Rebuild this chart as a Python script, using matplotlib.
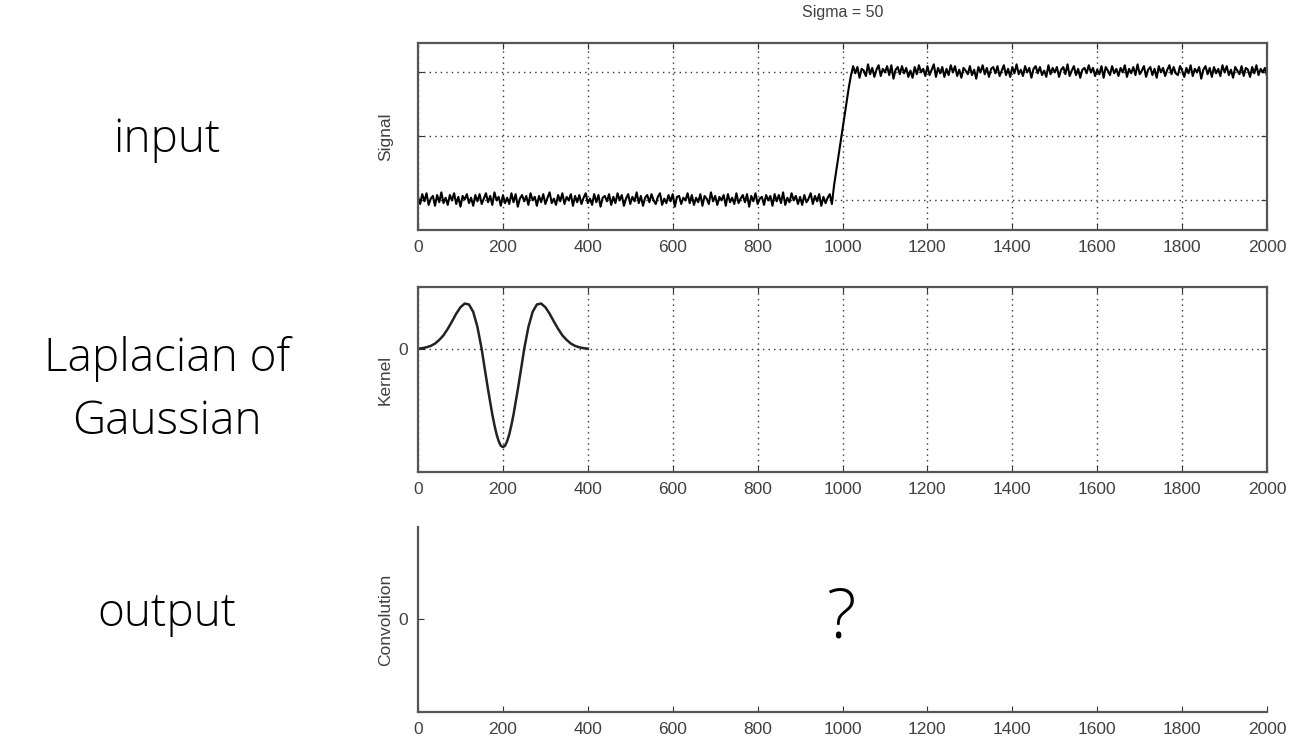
import numpy as np
import matplotlib.pyplot as plt

# input signal: low level 0, high level 1, samples every 5 units
low_level = 0.0
high_level = 1.0
noise_step = 0.007  # noise values below are in units of 0.007
noise_low = [3, -5, 6, -2, 7, -6, 1, 4, -7, 5, -3, 8, -4, 2,
             -6, 5, -1, 7, -5, 3, -8, 4, 0, 6, -4, 2, -7, 5,
             -2, 6, -5, 1, 7, -3, 4, -6, 8, -1, 3, -7, 5, -4,
             2, -5, 7, -3, 6, -8, 1, 5, -2, 4, -6, 7, -1, 3,
             -7, 4, -3, 6, -5, 2, 8, -4, 1, -6, 5, -2, 7, -5,
             3, -1, 6, -7, 4, -3, 5, -5, 2, 7, -4, 1, -6, 6,
             -3, 5, -8, 2, 4, -2, 6, -6, 3, -4, 7, -1, 5, -7,
             1, 6, -5, 3, -2, 8, -4, 4, -7, 2, 5, -3, 6, -1,
             -5, 3, 7, -6, 1, -4, 5, -2, 6, -8, 3, 4, -5, 2,
             -1, 7, -4, 5, -6, 2, -3, 6, -7, 4, 1, -5, 8, -2,
             4, -6, 3, -1, 5, -7, 6, -3, 2, -5, 7, -4, 1, 5,
             -3, 6, -8, 4, -2, 7, -5, 1, 3, -6, 5, -1, 4, -7,
             6, -2, 5, -4, 8, -6, 2, -3, 7, -1, 4, -5, 3, -6,
             5, -3, 1, 7, -5, 4, -2, 6, -7, 3, -4, 2, 6, -5]
ramp_x = [980, 985, 990, 995, 1000, 1005, 1010, 1015]
ramp_y = [0.11, 0.22, 0.33, 0.44, 0.55, 0.66, 0.77, 0.88]
noise_high = [-4, 6, -2, 5, -7, 3, 1, -5, 8, -3, 4, -6, 2, 7,
              -5, 3, -1, 6, -4, 7, -8, 2, 5, -3, 6, -2, 4, -6,
              1, -7, 5, -3, 7, -1, 3, -5, 6, -4, 2, 8, -6, 4,
              -2, 5, -6, 3, -4, 7, -1, 6, -5, 2, -7, 4, 1, -3,
              6, -4, 2, -8, 5, -1, 7, -3, 4, -6, 3, 5, -2, 6,
              -5, 1, 7, -4, 3, -6, 5, -2, 8, -3, 2, -5, 6, -1,
              4, -7, 3, 6, -2, 5, -4, 1, -6, 7, -3, 4, -1, 5,
              -6, 2, 5, -3, 8, -5, 1, 6, -4, 3, -7, 2, 4, -2,
              7, -1, 4, -5, 2, -3, 6, -7, 5, 1, -4, 6, -2, 3,
              -5, 4, -1, 7, -6, 3, -2, 5, -4, 8, -3, 1, 6, -6,
              2, 5, -4, 3, -7, 6, -1, 4, -5, 2, 7, -3, 5, -2,
              -4, 6, 1, -6, 4, -2, 7, -5, 3, -1, 5, -8, 2, 6,
              -3, 4, -6, 5, -2, 3, -5, 7, -1, 6, -4, 2, -7, 5,
              1, -3, 6, -5, 4, 2, -6, 5, -2, 7, -4, 3, -1, 4,
              -5]

# Laplacian of Gaussian kernel (peak = 1)
kernel_x = [0, 10, 20, 30, 40, 50, 60, 70, 80, 90, 100, 110, 120, 130, 140,
            150, 155, 160, 165, 170, 175, 180, 185, 190, 195, 200,
            205, 210, 215, 220, 225, 230, 235, 240, 245, 250,
            260, 270, 280, 290, 300, 310, 320, 330, 340, 350, 360, 370, 380, 390, 400]
kernel_y = [0.01, 0.02, 0.04, 0.07, 0.12, 0.20, 0.30, 0.44, 0.60, 0.77,
            0.91, 0.99, 0.97, 0.81, 0.48,
            0.00, -0.30, -0.59, -0.88, -1.15, -1.42, -1.65, -1.85, -2.00, -2.10, -2.13,
            -2.10, -2.00, -1.85, -1.65, -1.42, -1.15, -0.88, -0.59, -0.30, 0.00,
            0.48, 0.81, 0.97, 0.99, 0.91, 0.77, 0.60, 0.44, 0.30, 0.20, 0.12, 0.07, 0.04, 0.02, 0.01]

xticks = [0, 200, 400, 600, 800, 1000, 1200, 1400, 1600, 1800, 2000]
row_labels = ["input", "Laplacian of\nGaussian", "output"]
row_label_y = [0.48, 0.44, 0.53]

x_low = np.arange(0, 976, 5)
x_high = np.arange(1020, 2001, 5)
sig_x = np.concatenate([x_low, ramp_x, x_high])
sig_y = np.concatenate([low_level + np.array(noise_low) * noise_step, ramp_y,
                        high_level + np.array(noise_high) * noise_step])

tick_font = dict(family="Liberation Sans", size=12.5, color="#404040")
grid_kw = dict(color="black", linestyle=(0, (1, 3)), linewidth=1.0, alpha=0.8)

fig = plt.figure(figsize=(12.97, 7.46), dpi=100)
ax1 = fig.add_axes([0.3223, 0.6917, 0.6546, 0.2507])
ax2 = fig.add_axes([0.3223, 0.3673, 0.6546, 0.2480])
ax3 = fig.add_axes([0.3223, 0.0456, 0.6546, 0.2480])


def style(ax):
    ax.set_xlim(0, 2000)
    ax.set_xticks(xticks)
    ax.set_xticklabels([str(t) for t in xticks], fontdict=tick_font)
    ax.tick_params(direction="in", length=4, width=0.8, color="#333333", pad=7)
    for s in ax.spines.values():
        s.set_color("#555555")
        s.set_linewidth(1.6)


# top: signal
ax1.plot(sig_x, sig_y, color="black", linewidth=1.5)
style(ax1)
ax1.set_ylim(-0.238, 1.223)
ax1.set_yticks([0, 0.5, 1])
ax1.set_yticklabels([])
ax1.tick_params(top=True, right=True)
ax1.grid(True, **grid_kw)
ax1.set_ylabel("Signal", fontdict=tick_font, labelpad=11)
ax1.set_title("Sigma = 50", fontdict=dict(family="Liberation Sans", size=11.5, color="#404040"), pad=19)

# middle: kernel
ax2.plot(kernel_x, kernel_y, color="#222222", linewidth=1.8)
style(ax2)
ax2.set_ylim(-2.67, 1.35)
ax2.set_yticks([0])
ax2.set_yticklabels(["0"], fontdict=tick_font)
ax2.tick_params(top=True, right=True)
ax2.grid(True, **grid_kw)
ax2.set_ylabel("Kernel", fontdict=tick_font, labelpad=4)

# bottom: convolution (unknown)
style(ax3)
ax3.set_ylim(-1, 1)
ax3.set_yticks([0])
ax3.set_yticklabels(["0"], fontdict=tick_font)
ax3.spines["top"].set_visible(False)
ax3.spines["right"].set_visible(False)
ax3.set_ylabel("Convolution", fontdict=tick_font, labelpad=4)
ax3.text(995, 0.0, "?", ha="center", va="center", fontsize=50,
         family="Open Sans", fontweight="light")

# row captions on the left
for ax, lab, yy in zip([ax1, ax2, ax3], row_labels, row_label_y):
    ax.text(-0.296, yy, lab, transform=ax.transAxes, ha="center", va="center",
            fontsize=33, family="Open Sans", fontweight="light", linespacing=1.5)

plt.savefig("out.png", dpi=100)
